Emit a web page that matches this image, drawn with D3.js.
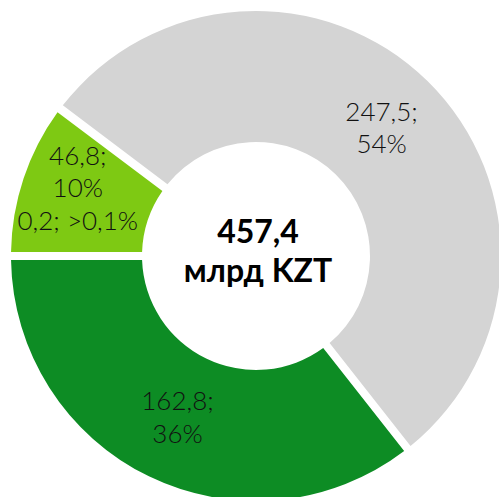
<!DOCTYPE html>
<html>
<head>
<meta charset="utf-8">
<script src="https://cdn.jsdelivr.net/npm/d3@7"></script>
<style>
  body { margin: 0; background: #fff; }
  svg text { font-family: Lato, "Noto Sans", sans-serif; }
  svg text.slice-label { font-family: "Lato Light", Lato, "Noto Sans", sans-serif; }
</style>
</head>
<body>
<div id="chart"></div>
<script>
// slices, clockwise from 9 o'clock
const labels = ['light', 'tiny', 'gray', 'dark'];
const values = [46.8, 0.2, 247.5, 162.8];
const sliceText = [
    ['46,8;', '10%', '0,2; >0,1%'],
    [],
    ['247,5;', '54%'],
    ['162,8;', '36%']
];
const colors = ['#7ec913', '#7ec913', '#d4d4d4', '#0d8c24'];
const totalLines = ['457,4', 'млрд KZT'];

const width = 499;
const height = 497;
const cx = 256, cy = 256;
const outerR = 245, innerR = 114;

const svg = d3.select('#chart')
    .append('svg')
    .attr('width', width)
    .attr('height', height);

const g = svg.append('g')
    .attr('transform', `translate(${cx}, ${cy})`);

const data = labels.map((l, i) => ({ label: l, value: values[i], text: sliceText[i] }));

const pie = d3.pie()
    .value(d => d.value)
    .sort(null)
    .startAngle(-Math.PI / 2)
    .endAngle(Math.PI * 1.5);

const arc = d3.arc()
    .innerRadius(innerR)
    .outerRadius(outerR)
    .padAngle(0.03);

const arcs = pie(data);

g.selectAll('path.slice')
    .data(arcs)
    .enter()
    .append('path')
    .attr('class', 'slice')
    .attr('d', arc)
    .attr('fill', (d, i) => colors[i]);

// nudges for the crowded light-green label
const offsets = { light: [-8, -11] };
const lineH = 32.5;
const capH = 18.6;

arcs.forEach(d => {
    const lines = d.data.text;
    if (!lines.length) return;
    let c = arc.centroid(d);
    if (d.data.label === 'light') {
        // centre over light + tiny slices together
        const both = { startAngle: d.startAngle, endAngle: arcs[1].endAngle };
        c = arc.centroid(both);
    }
    const off = offsets[d.data.label] || [0, 0];
    const blockH = (lines.length - 1) * lineH + capH;
    const firstBase = c[1] + off[1] - blockH / 2 + capH;
    const t = g.append('text')
        .attr('class', 'slice-label')
        .attr('text-anchor', 'middle')
        .style('font-size', '26px')
        .style('font-weight', 300)
        .attr('fill', '#111');
    lines.forEach((s, k) => {
        t.append('tspan')
            .attr('x', c[0] + off[0])
            .attr('y', firstBase + k * lineH)
            .text(s);
    });
});

const center = g.append('text')
    .attr('text-anchor', 'middle')
    .style('font-size', '32px')
    .style('font-weight', 700)
    .attr('fill', '#000');
totalLines.forEach((s, k) => {
    center.append('tspan')
        .attr('x', 2)
        .attr('y', -13 + k * 39)
        .text(s);
});
</script>
</body>
</html>
